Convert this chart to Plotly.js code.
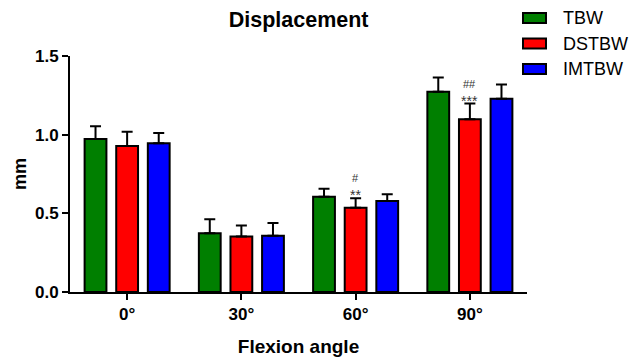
<!DOCTYPE html>
<html><head><meta charset="utf-8">
<script src="https://cdn.plot.ly/plotly-3.0.1.min.js"></script>
<style>html,body{margin:0;padding:0;background:#fff}#c{width:630px;height:357px}</style>
</head><body><div id="c"></div>
<script>
const categories = ["0°", "30°", "60°", "90°"];
const seriesNames = ["TBW", "DSTBW", "IMTBW"];
const tbw = [0.973, 0.373, 0.606, 1.273];
const tbwErr = [0.08, 0.09, 0.05, 0.09];
const dstbw = [0.928, 0.352, 0.536, 1.098];
const dstbwErr = [0.09, 0.07, 0.06, 0.1];
const imtbw = [0.945, 0.358, 0.578, 1.229];
const imtbwErr = [0.065, 0.08, 0.043, 0.09];
const sigStars = ["", "", "**", "***"];
const sigHash = ["", "", "#", "##"];

const colors = ["#007f00", "#ff0000", "#0000ff"];
const vals = [tbw, dstbw, imtbw];
const errs = [tbwErr, dstbwErr, imtbwErr];

const traces = seriesNames.map((n, i) => ({
  type: "bar", name: n, x: categories, y: vals[i],
  showlegend: false,
  marker: {color: colors[i], line: {color: "#000", width: 2}},
  error_y: {type: "data", array: errs[i], arrayminus: errs[i].map(() => 0), symmetric: false,
            color: "#000", thickness: 2, width: 5.5, visible: true}
}));

const W = 630, H = 357, mL = 70, mR = 103, mT = 56, mB = 65;
const pw = W - mL - mR, ph = H - mT - mB;
const px2x = p => (p - mL) / pw;
const py2y = p => (H - mB - p) / ph;

const annotations = [];
categories.forEach((c, k) => {
  const top = dstbw[k] + dstbwErr[k];
  if (sigStars[k]) annotations.push({x: c, y: top, xref: "x", yref: "y", text: sigStars[k], showarrow: false,
    yanchor: "middle", yshift: 3, borderpad: 0, font: {family: "Liberation Sans, Arial", size: 14, color: "#333"}});
  if (sigHash[k]) annotations.push({x: c, y: top, xref: "x", yref: "y", text: sigHash[k], showarrow: false,
    yanchor: "middle", yshift: 20, borderpad: 0, font: {family: "Liberation Sans, Arial", size: 11, color: "#333"}});
});

// custom legend
const legRows = [18, 43.5, 69];
const shapes = [];
seriesNames.forEach((n, i) => {
  shapes.push({type: "rect", xref: "paper", yref: "paper",
    x0: px2x(523), x1: px2x(546), y0: py2y(legRows[i] - 5), y1: py2y(legRows[i] + 5),
    fillcolor: colors[i], line: {color: "#000", width: 2}});
  annotations.push({xref: "paper", yref: "paper", x: px2x(561), y: py2y(legRows[i]), xanchor: "left",
    yanchor: "middle", text: n, showarrow: false, font: {size: 18, color: "#000"}});
});

const layout = {
  width: W, height: H,
  margin: {l: mL, r: mR, t: mT, b: mB},
  paper_bgcolor: "#fff", plot_bgcolor: "#fff",
  font: {family: "Liberation Sans, Arial, sans-serif", color: "#000"},
  title: {text: "<b>Displacement</b>", x: 0.474, xanchor: "center", y: 0.945, yanchor: "middle",
          font: {size: 21.5, color: "#000"}},
  barmode: "group", bargap: 0.17, bargroupgap: 0.31,
  showlegend: false,
  xaxis: {range: [-0.5, 3.5], showline: true, linecolor: "#000", linewidth: 2,
          ticks: "outside", ticklen: 6, tickwidth: 2, tickcolor: "#000",
          tickfont: {size: 17, color: "#000", weight: "bold"},
          title: {text: "<b>Flexion angle</b>", font: {size: 19, color: "#000"}, standoff: 16},
          zeroline: false, showgrid: false, fixedrange: true},
  yaxis: {range: [0, 1.5], tickvals: [0, 0.5, 1.0, 1.5], ticktext: ["0.0", "0.5", "1.0", "1.5"],
          showline: true, linecolor: "#000", linewidth: 2,
          ticks: "outside", ticklen: 6, tickwidth: 2, tickcolor: "#000",
          tickfont: {size: 17, color: "#000", weight: "bold"},
          title: {text: "<b>mm</b>", font: {size: 18, color: "#000"}, standoff: 4},
          zeroline: false, showgrid: false, fixedrange: true},
  annotations: annotations,
  shapes: shapes
};

Plotly.newPlot("c", traces, layout, {displayModeBar: false, staticPlot: true});
</script></body></html>
